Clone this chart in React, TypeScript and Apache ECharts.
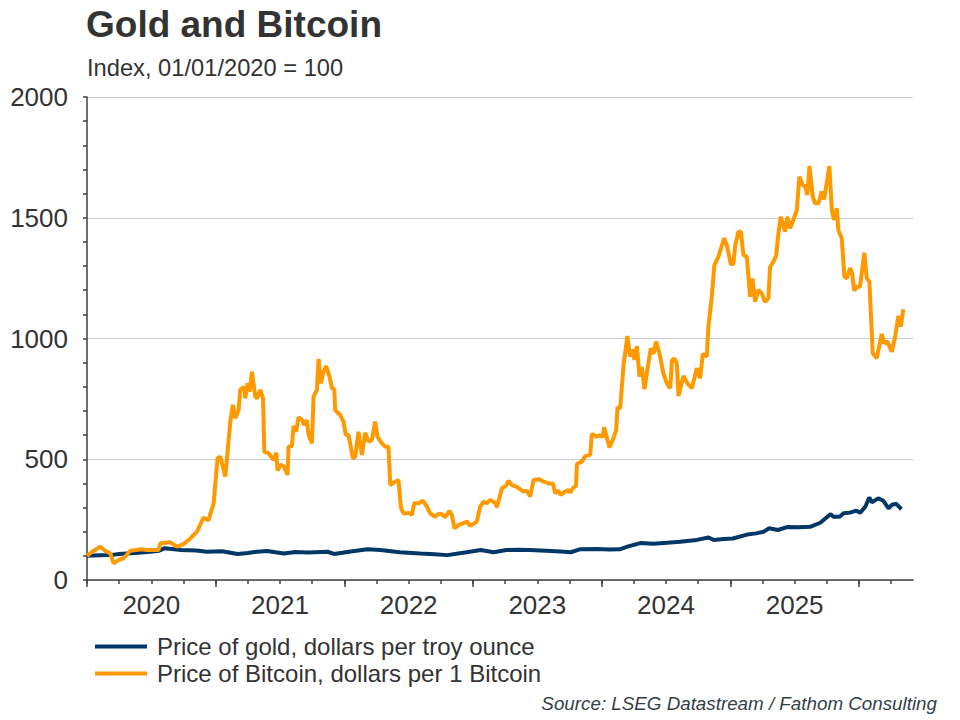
import React, { useEffect, useRef } from "react";
import * as echarts from "echarts";

// Time is measured in years since 01/01/2020
const YEAR_LABELS = ["2020", "2021", "2022", "2023", "2024", "2025"];
const Y_LABELS = [0, 500, 1000, 1500, 2000];
const SERIES_NAMES = [
  "Price of gold, dollars per troy ounce",
  "Price of Bitcoin, dollars per 1 Bitcoin",
];

const goldT = [0, 0.10, 0.18, 0.25, 0.31, 0.40, 0.49, 0.56, 0.60, 0.66, 0.73, 0.85, 0.93, 1.05, 1.17, 1.25, 1.32, 1.40, 1.53, 1.62, 1.72, 1.87, 1.92, 2.05, 2.18, 2.28, 2.43, 2.59, 2.70, 2.80, 2.95, 3.06, 3.16, 3.26, 3.35, 3.44, 3.57, 3.68, 3.76, 3.83, 3.96, 4.06, 4.14, 4.20, 4.30, 4.40, 4.51, 4.61, 4.74, 4.83, 4.87, 4.95, 5.02, 5.13, 5.20, 5.26, 5.30, 5.37, 5.44, 5.53, 5.62, 5.70, 5.78, 5.80, 5.85, 5.88, 5.93, 5.98, 6.01, 6.05, 6.08, 6.10, 6.15, 6.19, 6.23, 6.26, 6.29, 6.33];
const goldV = [100, 102, 103, 108, 110, 113, 117, 121, 131, 128, 124, 122, 117, 119, 108, 112, 117, 120, 110, 116, 114, 117, 108, 118, 127, 124, 115, 110, 107, 103, 115, 124, 115, 124, 125, 124, 121, 118, 115, 127, 128, 126, 127, 138, 153, 150, 154, 158, 166, 176, 166, 170, 172, 188, 193, 200, 214, 207, 219, 218, 220, 237, 273, 262, 262, 276, 279, 287, 279, 304, 342, 322, 338, 328, 297, 313, 315, 293];

const btcT = [0, 0.039, 0.103, 0.142, 0.181, 0.207, 0.246, 0.284, 0.336, 0.427, 0.466, 0.556, 0.570, 0.647, 0.699, 0.751, 0.803, 0.855, 0.906, 0.945, 0.984, 1.015, 1.036, 1.075, 1.114, 1.134, 1.152, 1.178, 1.191, 1.222, 1.230, 1.248, 1.263, 1.282, 1.308, 1.321, 1.347, 1.368, 1.378, 1.411, 1.450, 1.471, 1.481, 1.502, 1.528, 1.559, 1.566, 1.593, 1.605, 1.626, 1.644, 1.671, 1.688, 1.709, 1.722, 1.748, 1.761, 1.787, 1.800, 1.818, 1.838, 1.859, 1.885, 1.904, 1.922, 1.929, 1.968, 1.994, 2.012, 2.033, 2.067, 2.085, 2.110, 2.137, 2.162, 2.188, 2.214, 2.240, 2.258, 2.292, 2.318, 2.343, 2.357, 2.396, 2.421, 2.440, 2.460, 2.512, 2.525, 2.543, 2.577, 2.611, 2.642, 2.667, 2.706, 2.724, 2.758, 2.784, 2.817, 2.836, 2.856, 2.887, 2.926, 2.953, 2.978, 3.030, 3.056, 3.082, 3.108, 3.134, 3.172, 3.186, 3.225, 3.258, 3.276, 3.302, 3.341, 3.392, 3.419, 3.444, 3.470, 3.517, 3.548, 3.587, 3.621, 3.639, 3.664, 3.683, 3.716, 3.742, 3.755, 3.776, 3.800, 3.808, 3.846, 3.872, 3.911, 3.924, 3.963, 3.988, 4.009, 4.019, 4.061, 4.092, 4.113, 4.123, 4.144, 4.169, 4.200, 4.221, 4.241, 4.255, 4.274, 4.294, 4.312, 4.333, 4.351, 4.382, 4.403, 4.423, 4.449, 4.480, 4.507, 4.533, 4.546, 4.564, 4.584, 4.597, 4.636, 4.667, 4.701, 4.740, 4.766, 4.786, 4.817, 4.830, 4.856, 4.876, 4.908, 4.952, 4.973, 5.004, 5.024, 5.037, 5.063, 5.082, 5.102, 5.128, 5.154, 5.172, 5.193, 5.218, 5.245, 5.270, 5.296, 5.309, 5.335, 5.356, 5.374, 5.392, 5.426, 5.444, 5.465, 5.490, 5.517, 5.537, 5.563, 5.581, 5.599, 5.615, 5.641, 5.659, 5.685, 5.711, 5.729, 5.770, 5.789, 5.806, 5.828, 5.840, 5.866, 5.887, 5.905, 5.931, 5.944, 5.964, 5.983, 6.008, 6.042, 6.060, 6.081, 6.107, 6.138, 6.177, 6.195, 6.221, 6.255, 6.281, 6.306, 6.325, 6.345];
const btcV = [100, 117, 138, 121, 110, 69, 83, 90, 121, 127, 124, 124, 152, 156, 138, 149, 172, 200, 258, 248, 318, 504, 511, 428, 656, 725, 670, 704, 787, 800, 752, 814, 780, 862, 759, 752, 787, 752, 531, 525, 497, 527, 453, 476, 472, 435, 552, 555, 638, 614, 674, 663, 642, 663, 600, 566, 759, 787, 915, 814, 862, 886, 842, 794, 790, 704, 683, 656, 600, 600, 504, 511, 614, 518, 610, 573, 580, 656, 593, 566, 552, 552, 393, 407, 414, 300, 276, 276, 269, 318, 318, 328, 304, 276, 262, 272, 273, 260, 286, 269, 214, 228, 235, 242, 224, 242, 304, 324, 318, 331, 320, 301, 380, 391, 411, 393, 386, 366, 370, 345, 414, 417, 407, 400, 400, 359, 370, 352, 366, 373, 362, 380, 389, 480, 490, 513, 518, 605, 593, 600, 591, 632, 549, 587, 621, 715, 711, 883, 1010, 925, 955, 911, 968, 842, 883, 790, 856, 959, 936, 987, 939, 856, 814, 794, 908, 918, 897, 762, 845, 814, 794, 877, 835, 936, 925, 1049, 1173, 1304, 1339, 1415, 1387, 1308, 1308, 1380, 1442, 1442, 1346, 1339, 1173, 1249, 1152, 1201, 1187, 1152, 1166, 1295, 1318, 1342, 1435, 1504, 1442, 1504, 1456, 1491, 1532, 1670, 1636, 1631, 1594, 1714, 1587, 1560, 1560, 1608, 1576, 1714, 1532, 1491, 1539, 1449, 1415, 1256, 1249, 1291, 1277, 1198, 1214, 1214, 1355, 1249, 1235, 939, 918, 1019, 980, 987, 945, 1007, 1093, 1049, 1121];

const X_MAX = 6.42;
const QUARTERS = Array.from({ length: 26 }, (_, i) => i * 0.25);
const YEAR_STARTS = Array.from({ length: 7 }, (_, i) => i);
const YEAR_MIDS = YEAR_LABELS.map((_, i) => i + 0.5);

const FONT = "'Liberation Sans', Arial, sans-serif";
const TEXT = "#333333";
const AXIS = "#404040";
const GOLD = "#003767";
const BTC = "#FF9900";

export default function App() {
  const ref = useRef<HTMLDivElement>(null);
  useEffect(() => {
    if (!ref.current) return;
    const chart = echarts.init(ref.current, null, { renderer: "svg" });
    const gold = goldT.map((t, i) => [t, goldV[i]]);
    const btc = btcT.map((t, i) => [t, btcV[i]]);
    chart.setOption({
      animation: false,
      textStyle: { fontFamily: FONT },
      grid: { left: 87, right: 47, top: 97, bottom: 140, containLabel: false },
      graphic: [
        {
          type: "text",
          left: 86,
          top: 6,
          style: { text: "Gold and Bitcoin", font: `bold 37px ${FONT}`, fill: TEXT },
        },
        {
          type: "text",
          left: 87,
          top: 56,
          style: { text: "Index, 01/01/2020 = 100", font: `23.7px ${FONT}`, fill: TEXT },
        },
        {
          type: "text",
          right: 23,
          top: 694,
          style: {
            text: "Source: LSEG Datastream / Fathom Consulting",
            font: `italic 18.8px ${FONT}`,
            fill: "#333F48",
          },
        },
      ],
      legend: {
        left: 90,
        top: 628,
        orient: "vertical",
        icon: "rect",
        itemWidth: 52,
        itemHeight: 4,
        itemGap: 0,
        textStyle: { fontSize: 24, color: TEXT, fontFamily: FONT, lineHeight: 27, padding: [0, 0, 0, 5] },
        data: SERIES_NAMES,
      },
      xAxis: [
        {
          type: "value",
          min: 0,
          max: X_MAX,
          axisLine: { show: true, lineStyle: { color: AXIS, width: 1.5 } },
          axisTick: { show: true, customValues: QUARTERS, length: 4, lineStyle: { color: AXIS, width: 1.5 } },
          axisLabel: {
            customValues: YEAR_MIDS,
            formatter: (v: number) => YEAR_LABELS[Math.floor(v)] ?? "",
            fontSize: 26,
            color: TEXT,
            margin: 12,
            fontFamily: FONT,
          },
          splitLine: { show: false },
        },
        {
          type: "value",
          min: 0,
          max: X_MAX,
          position: "bottom",
          axisLine: { show: false },
          axisTick: { show: true, customValues: YEAR_STARTS, length: 7, lineStyle: { color: AXIS, width: 1.5 } },
          axisLabel: { show: false },
          splitLine: { show: false },
        },
      ],
      yAxis: [
        {
          type: "value",
          min: 0,
          max: 2000,
          interval: 500,
          axisLine: { show: true, lineStyle: { color: AXIS, width: 1.5 } },
          axisTick: { show: false },
          axisLabel: {
            customValues: Y_LABELS,
            formatter: (v: number) => String(v),
            fontSize: 26,
            color: TEXT,
            margin: 19,
            fontFamily: FONT,
          },
          splitLine: { show: true, lineStyle: { color: "#C8CCCE", width: 1 } },
        },
        {
          type: "value",
          min: 0,
          max: 2000,
          interval: 100,
          position: "left",
          axisLine: { show: false },
          axisTick: { show: true, length: 4, lineStyle: { color: AXIS, width: 1.5 } },
          axisLabel: { show: false },
          splitLine: { show: false },
        },
      ],
      series: [
        {
          name: SERIES_NAMES[0],
          type: "line",
          data: gold,
          showSymbol: false,
          symbol: "none",
          lineStyle: { color: GOLD, width: 4 },
          itemStyle: { color: GOLD },
        },
        {
          name: SERIES_NAMES[1],
          type: "line",
          data: btc,
          showSymbol: false,
          symbol: "none",
          lineStyle: { color: BTC, width: 4 },
          itemStyle: { color: BTC },
        },
      ],
    });
    return () => chart.dispose();
  }, []);
  return (
    <div
      ref={ref}
      style={{ position: "absolute", left: 0, top: 0, width: 960, height: 720, background: "#fff" }}
    />
  );
}
